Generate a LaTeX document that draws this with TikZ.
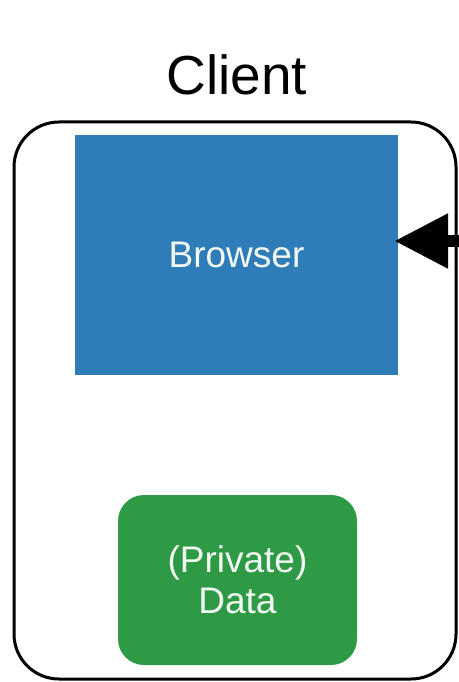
\documentclass[tikz,border=0pt]{standalone}
\usepackage{fontspec}
\setmainfont{Liberation Sans}
\usetikzlibrary{arrows.meta}
\definecolor{browserblue}{HTML}{2F7DB8}
\definecolor{datagreen}{HTML}{2E9A45}
\definecolor{boxtext}{HTML}{F2F8F2}
\tikzset{
  hostbox/.style={draw=black, line width=3pt, rounded corners=45pt, fill=white,
    minimum width=442pt, minimum height=557pt, inner sep=0pt},
  appbox/.style={fill=browserblue, minimum width=323pt, minimum height=240pt,
    inner sep=0pt, text=boxtext, font=\fontsize{37}{41}\selectfont},
  storebox/.style={fill=datagreen, rounded corners=26pt, minimum width=239pt,
    minimum height=170pt, inner sep=0pt, text=boxtext, align=center,
    font=\fontsize{37}{41}\selectfont},
  titletext/.style={font=\fontsize{55}{60}\selectfont, inner sep=0pt},
  request/.style={line width=12pt, shorten >=-4pt,
    -{Triangle[length=54pt 0 0, width=52pt 0 0]}}
}
\begin{document}
\begin{tikzpicture}[x=1pt, y=-1pt]
  \useasboundingbox (0,0) rectangle (458,682);
  % machine outline and its title
  \node[hostbox] (client) at (235,400.5) {};
  \node[titletext, anchor=base] (title) at (237,95) {Client};
  % contents of the machine
  \node[appbox] (browser) at (236.5,255) {Browser};
  \node[storebox] (data) at (237.5,580) {(Private)\\Data};
  % incoming request from the right
  \coordinate (src) at (475,241);
  \draw[request] (src) -- (src -| browser.east);
\end{tikzpicture}
\end{document}
